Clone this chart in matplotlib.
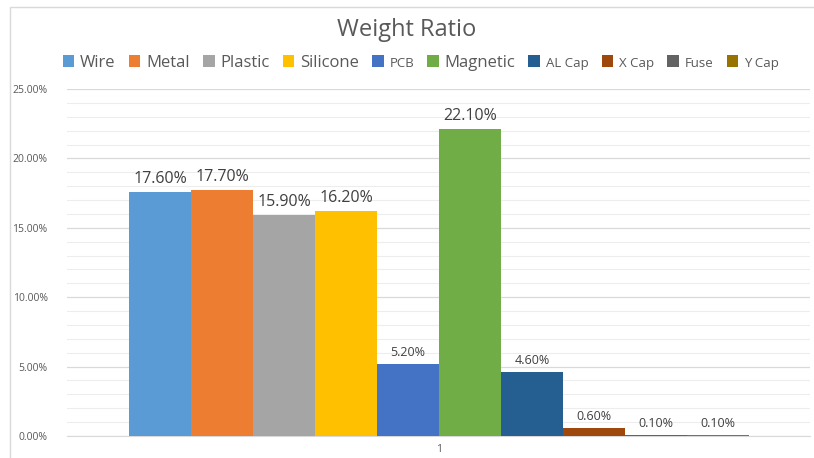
import matplotlib.pyplot as plt
from matplotlib.ticker import MultipleLocator, FuncFormatter
from matplotlib.patches import Rectangle

plt.rcParams['font.family'] = ['Open Sans', 'DejaVu Sans']

# data
materials = ['Wire', 'Metal', 'Plastic', 'Silicone', 'PCB', 'Magnetic',
             'AL Cap', 'X Cap', 'Fuse', 'Y Cap']
ratios = [17.6, 17.7, 15.9, 16.2, 5.2, 22.1, 4.6, 0.6, 0.1, 0.1]
colors = ['#5B9BD5', '#ED7D31', '#A5A5A5', '#FFC000', '#4472C4', '#70AD47',
          '#255E91', '#9E480E', '#636363', '#997300']
# Excel rendered some labels smaller than others
big = [True, True, True, True, False, True, False, False, False, False]

fig = plt.figure(figsize=(8.14, 4.58), dpi=100)
ax = fig.add_axes([67 / 814, 1 - 436 / 458, (810 - 67) / 814, (436 - 89) / 458])

for i, (name, v, c) in enumerate(zip(materials, ratios, colors)):
    ax.bar(i, v, width=1, align='edge', color=c, label=name, zorder=3)
    fs = 11.5 if big[i] else 9
    ax.text(i + 0.5, v + 0.35, '%.2f%%' % v, ha='center', va='bottom',
            fontsize=fs, color='#404040', zorder=4)

ax.set_xlim(-1.0, (810 - 129) / 62)
ax.set_ylim(0, 25)
ax.yaxis.set_major_locator(MultipleLocator(5))
ax.yaxis.set_minor_locator(MultipleLocator(1))
ax.yaxis.set_major_formatter(FuncFormatter(lambda y, p: '%.2f%%' % y))
ax.grid(axis='y', which='major', color='#D9D9D9', linewidth=0.9, zorder=0)
ax.grid(axis='y', which='minor', color='#EDEDED', linewidth=0.8, zorder=0)
ax.set_xticks([5])
ax.set_xticklabels(['1'])
ax.tick_params(axis='both', which='both', length=0, labelsize=7.5,
               colors='#595959')
ax.tick_params(axis='y', pad=14)
ax.tick_params(axis='x', pad=6)
for s in ['top', 'right', 'left']:
    ax.spines[s].set_visible(False)
ax.spines['bottom'].set_color('#D9D9D9')

fig.text(0.5, 1 - 30 / 458, 'Weight Ratio', ha='center', va='center',
         fontsize=17, color='#595959')

leg = fig.legend(loc='center', bbox_to_anchor=(0.517, 1 - 63 / 458), ncol=10,
                 frameon=False, handlelength=0.7, handleheight=0.7,
                 handletextpad=0.35, columnspacing=0.78, fontsize=12,
                 borderaxespad=0)
for t, b in zip(leg.get_texts(), big):
    t.set_color('#595959')
    if not b:
        t.set_fontsize(9.5)

# chart border
fig.patches.append(Rectangle((10 / 814, -0.1), 1.2, 1 - 7 / 458 + 0.1,
                             transform=fig.transFigure, fill=False,
                             edgecolor='#D9D9D9', linewidth=1))

fig.savefig('out.png', dpi=100)
